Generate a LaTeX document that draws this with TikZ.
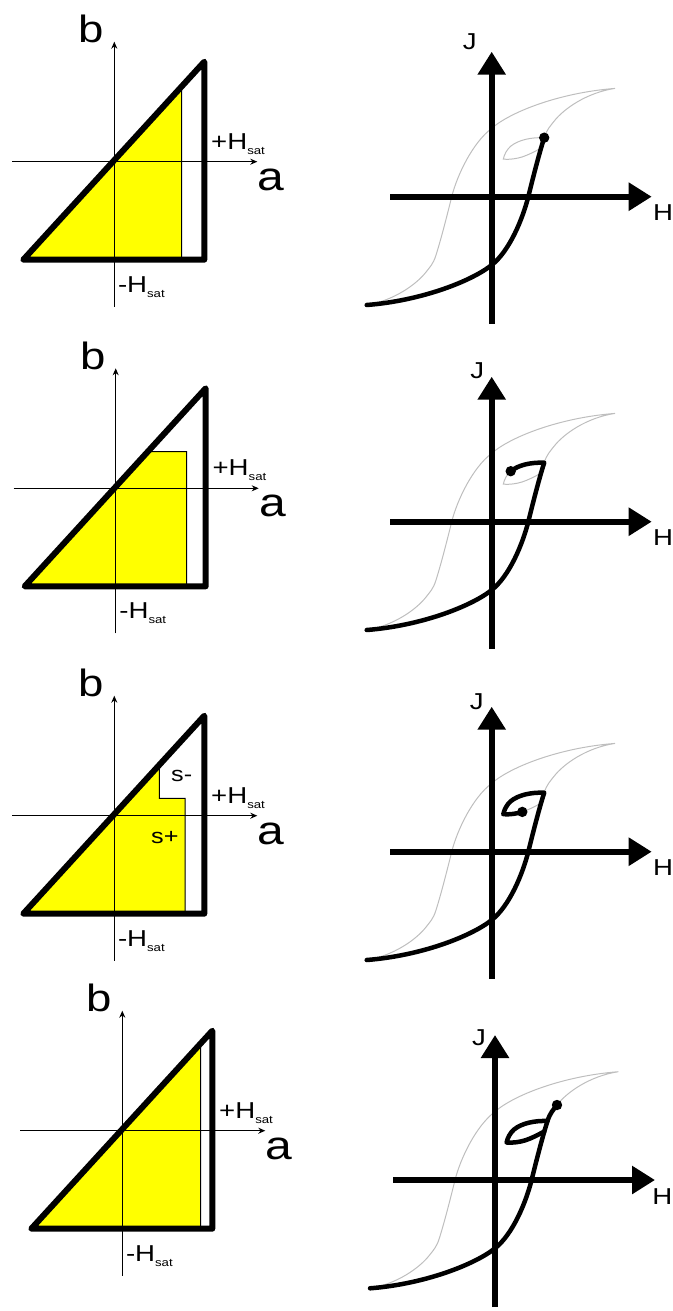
\documentclass[tikz,border=0pt]{standalone}
\usepackage{fontspec}
\setmainfont{Liberation Sans}
\usepackage{graphicx}
\usetikzlibrary{arrows.meta}
\definecolor{YL}{RGB}{255,255,0}
\definecolor{LGr}{RGB}{190,190,190}
\newcommand{\wide}[1]{\scalebox{1.2}[1]{#1}}
\newcommand{\hsub}{\raisebox{-2.5pt}{\fontsize{5.5}{6}\selectfont sat}}

\begin{document}
\begin{tikzpicture}[x=0.5pt, y=-0.5pt,
  yarea/.style={fill=YL, draw=black, line width=0.5pt},
  tri/.style={line width=3pt, line join=round, line cap=round},
  ax/.style={line width=0.5pt, -{Stealth[length=3.5pt, width=3pt]}},
  bigax/.style={line width=3pt, -{Triangle[length=11.5pt, width=13.5pt]}},
  majorloop/.style={draw=LGr, line width=0.5pt},
  trace/.style={line width=2.25pt, line cap=round, line join=round},
  lbl/.style={inner sep=0pt, anchor=base west},
  axlbl/.style={lbl, font=\fontsize{19}{19}\selectfont},
  hlbl/.style={lbl, font=\fontsize{11.5}{12}\selectfont}
]
\useasboundingbox (0,0) rectangle (673,1311);

% Preisach planes
\foreach \n/\ox/\oy in {1/114.3/161.7, 2/115.7/488.3, 3/114.3/815.7, 4/122.3/1130.7} {
  \begin{scope}[shift={(\ox,\oy)}]
    \ifcase\n\or
      \draw[yarea] (-91,98) -- (67.4,-75.3) -- (67.4,98) -- cycle;
    \or
      \draw[yarea] (-91,98) -- (32,-36.6) -- (71,-36.6) -- (71,98) -- cycle;
    \or
      \draw[yarea] (-91,98) -- (45,-50.7) -- (45,-17.4) -- (70.7,-17.4) -- (70.7,98) -- cycle;
      \node[hlbl, font=\fontsize{10.5}{11}\selectfont] (sm) at (56.5,-34) {\wide{s-}};
      \node[hlbl, font=\fontsize{10.5}{11}\selectfont] (sp) at (36.5,27.6) {\wide{s+}};
    \or
      \draw[yarea] (-91,98) -- (78.4,-87.3) -- (78.4,98) -- cycle;
    \fi
    \draw[ax] (-102,0) -- (143,0);
    \draw[ax] (0,145) -- (0,-120);
    \draw[tri] (-91,98) -- (90,-100) -- (90,98) -- cycle;
    \node[axlbl] (b\n) at (-36,-119) {\wide{b}};
    \node[axlbl, font=\fontsize{20}{20}\selectfont] (a\n) at (143,28.5) {\wide{a}};
    \node[hlbl] (hp\n) at (96.5,-12.5) {\wide{+H\hsub}};
    \node[hlbl] (hm\n) at (3.3,130.5) {\wide{-H\hsub}};
  \end{scope}
}

% hysteresis loops
\foreach \n/\ox/\oy/\jx/\jy/\hx in {1/491.7/196.7/-22/-147/161, 2/491.7/521.7/-14.5/-143.5/161,
    3/491.7/851.7/-15/-142/161, 4/495/1180/-16/-135/157} {
  \begin{scope}[shift={(\ox,\oy)}]
    % major loop
    \draw[majorloop] (-125,108.3) .. controls (-70,104) and (-20,84.3) .. (0,68.3)
      .. controls (18,54) and (31,22) .. (36.6,0)
      .. controls (42,-22) and (48,-45) .. (52.5,-59)
      .. controls (55,-67) and (58.5,-70.5) .. (62,-75)
      .. controls (72,-88) and (95,-104) .. (123.3,-108.3)
      .. controls (68,-104) and (19,-85) .. (0,-68.4)
      .. controls (-19,-54) and (-34.4,-22) .. (-40,0)
      .. controls (-45.4,22) and (-51.4,45) .. (-55.9,59)
      .. controls (-58.4,67) and (-61.9,70.5) .. (-65.4,75)
      .. controls (-75.4,88) and (-98.4,104) .. (-125,108.3);
    % minor loop
    \draw[majorloop] (52.5,-59) .. controls (40,-59.5) and (27,-57) .. (19,-50.5)
      .. controls (15,-47) and (12.5,-42) .. (11.6,-37.5)
      .. controls (18,-37) and (25,-38) .. (30.6,-39.8)
      .. controls (37,-42) and (43,-45) .. (49.3,-48.6);
    \draw[bigax] (-101.7,0) -- (160,0);
    \draw[bigax] (0,127) -- (0,-145);
    \node[hlbl] (H\n) at (\hx,24) {\wide{H}};
    \node[hlbl, anchor=base] (J\n) at (\jx,\jy) {\wide{J}};
    \ifcase\n\or
      \draw[trace] (-125,108.3) .. controls (-70,104) and (-20,84.3) .. (0,68.3)
        .. controls (18,54) and (31,22) .. (36.6,0)
        .. controls (42,-22) and (48,-45) .. (52.5,-59);
      \fill (52.5,-59) circle[radius=2.6pt];
    \or
      \draw[trace] (-125,108.3) .. controls (-70,104) and (-20,84.3) .. (0,68.3)
        .. controls (18,54) and (31,22) .. (36.6,0)
        .. controls (42,-22) and (48,-45) .. (52.5,-59)
        .. controls (40,-59.5) and (27,-57) .. (19,-50.5);
      \fill (19,-50.5) circle[radius=2.6pt];
    \or
      \draw[trace] (-125,108.3) .. controls (-70,104) and (-20,84.3) .. (0,68.3)
        .. controls (18,54) and (31,22) .. (36.6,0)
        .. controls (42,-22) and (48,-45) .. (52.5,-59)
        .. controls (40,-59.5) and (27,-57) .. (19,-50.5)
        .. controls (15,-47) and (12.5,-42) .. (11.6,-37.5)
        .. controls (18,-37) and (25,-38) .. (30.6,-39.8);
      \fill (30.6,-39.8) circle[radius=2.6pt];
    \or
      \draw[trace] (-125,108.3) .. controls (-70,104) and (-20,84.3) .. (0,68.3)
        .. controls (18,54) and (31,22) .. (36.6,0)
        .. controls (42,-22) and (48,-45) .. (52.5,-59)
        .. controls (55,-67) and (58.5,-70.5) .. (62,-75);
      \draw[trace] (52.5,-59) .. controls (40,-59.5) and (27,-57) .. (19,-50.5)
        .. controls (15,-47) and (12.5,-42) .. (11.6,-37.5)
        .. controls (18,-37) and (25,-38) .. (30.6,-39.8)
        .. controls (37,-42) and (43,-45) .. (49.3,-48.6);
      \fill (62,-75) circle[radius=2.6pt];
    \fi
  \end{scope}
}
\end{tikzpicture}
\end{document}
